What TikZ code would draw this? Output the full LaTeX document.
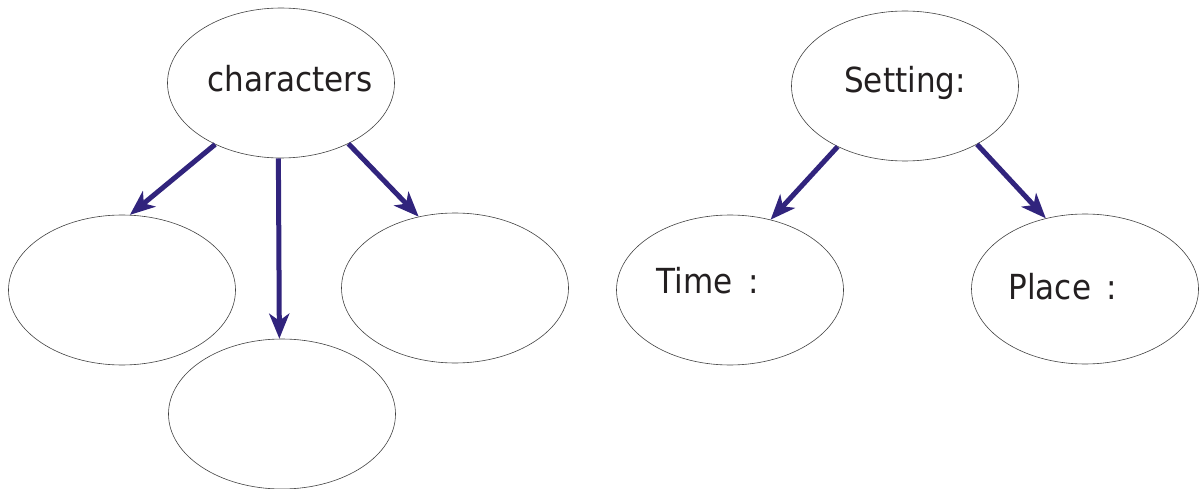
\documentclass[tikz,border=0pt]{standalone}
\usepackage{fontspec}
\setmainfont{DejaVu Sans Condensed}
\usetikzlibrary{shapes.geometric,arrows.meta}
\definecolor{arrowblue}{RGB}{49,36,125}
\definecolor{txtgray}{RGB}{35,31,32}
\begin{document}
\begin{tikzpicture}[x=1pt,y=-1pt,
  bubble/.style={ellipse,draw=black!75,line width=0.6pt,inner sep=0pt,minimum width=227pt,minimum height=150pt},
  lbl/.style={anchor=base,inner sep=0pt,text=txtgray,font=\fontsize{34.5pt}{40pt}\selectfont},
  link/.style={draw=arrowblue,line width=5pt,-{Stealth[length=25pt,width=20pt,inset=7pt]}}]
\useasboundingbox (0,0) rectangle (1199,489);
\node[bubble] (chars) at (281,83) {};
\node[bubble] (left) at (122,290) {};
\node[bubble] (bottom) at (282,414) {};
\node[bubble] (right) at (455,288) {};
\node[bubble] (setting) at (905,86) {};
\node[bubble] (time) at (730,290) {};
\node[bubble] (place) at (1085,289) {};
\node[lbl] (tchars) at (290,92) {characters};
\node[lbl] (tsetting) at (905,93) {Setting:};
\node[lbl] (ttime) at (708,293) {Time\hspace{6pt} :};
\node[lbl] (tplace) at (1063,299) {Place\hspace{6pt} :};
\draw[link] (chars.223) -- (left.84);
\draw[link] (chars.268) -- (bottom.92);
\draw[link] (chars.318) -- (right.117);
\draw[link] (setting.222) -- (time.60);
\draw[link] (setting.321) -- (place.119);
\end{tikzpicture}
\end{document}
